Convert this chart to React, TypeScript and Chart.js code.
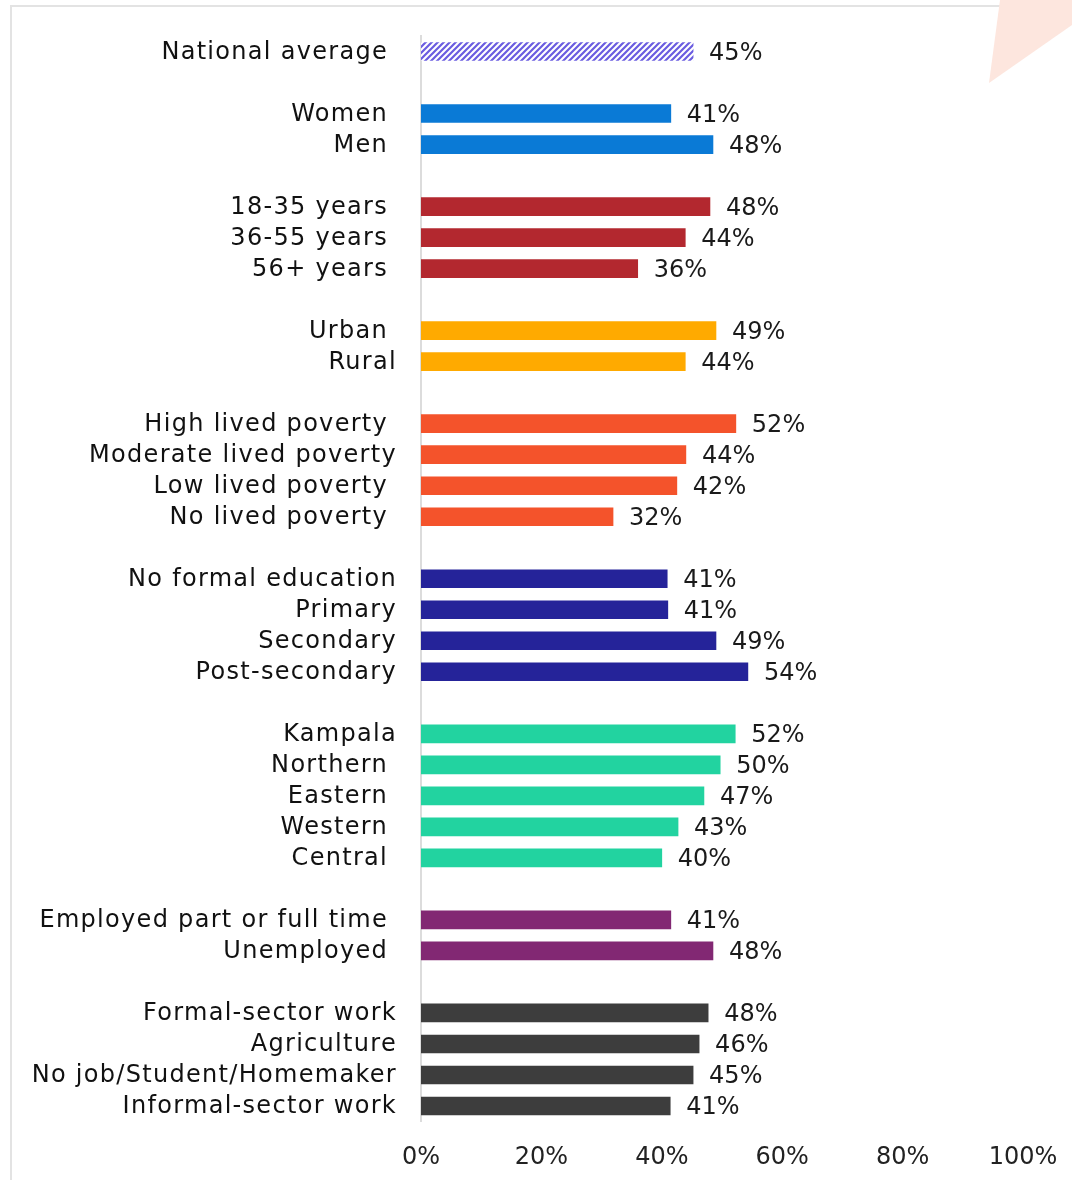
import React, { useEffect, useRef } from "react";
import { Chart, registerables } from "chart.js";

Chart.register(...registerables);

const categories = [
  "National average ", "",
  "Women ", "Men ", "",
  "18-35 years ", "36-55 years ", "56+ years ", "",
  "Urban ", "Rural", "",
  "High lived poverty ", "Moderate lived poverty", "Low lived poverty ", "No lived poverty ", "",
  "No formal education", "Primary", "Secondary", "Post-secondary", "",
  "Kampala", "Northern ", "Eastern ", "Western ", "Central ", "",
  "Employed part or full time ", "Unemployed ", "",
  "Formal-sector work", "Agriculture", "No job/Student/Homemaker", "Informal-sector work",
];

const values: (number | null)[] = [
  45.2, null,
  41.5, 48.5, null,
  48.0, 43.9, 36.0, null,
  49.0, 43.9, null,
  52.3, 44.0, 42.5, 31.9, null,
  40.9, 41.0, 49.0, 54.3, null,
  52.2, 49.7, 47.0, 42.7, 40.0, null,
  41.5, 48.5, null,
  47.7, 46.2, 45.2, 41.4,
];

const valueLabels: string[] = [
  "45%", "",
  "41%", "48%", "",
  "48%", "44%", "36%", "",
  "49%", "44%", "",
  "52%", "44%", "42%", "32%", "",
  "41%", "41%", "49%", "54%", "",
  "52%", "50%", "47%", "43%", "40%", "",
  "41%", "48%", "",
  "48%", "46%", "45%", "41%",
];

// group of each row (index into groupColors); -1 = gap, 0 = hatched national average
const groups = [
  0, -1,
  1, 1, -1,
  2, 2, 2, -1,
  3, 3, -1,
  4, 4, 4, 4, -1,
  5, 5, 5, 5, -1,
  6, 6, 6, 6, 6, -1,
  7, 7, -1,
  8, 8, 8, 8,
];

const groupColors = [
  "#6A5CE0", "#0A7AD6", "#B3282F", "#FFAA00", "#F4532B",
  "#252399", "#22D3A0", "#822873", "#3D3D3D",
];

const xTicks = [0, 20, 40, 60, 80, 100];

const FONT = "DejaVu Sans";

function makeHatch(color: string): CanvasPattern | string {
  const c = document.createElement("canvas");
  const s = 6;
  c.width = s;
  c.height = s;
  const ctx = c.getContext("2d");
  if (!ctx) return color;
  ctx.fillStyle = "#ffffff";
  ctx.fillRect(0, 0, s, s);
  ctx.strokeStyle = color;
  ctx.lineWidth = 2.2;
  ctx.beginPath();
  ctx.moveTo(-1, s + 1);
  ctx.lineTo(s + 1, -1);
  ctx.moveTo(-1, 1);
  ctx.lineTo(1, -1);
  ctx.moveTo(s - 1, s + 1);
  ctx.lineTo(s + 1, s - 1);
  ctx.stroke();
  const p = ctx.createPattern(c, "repeat");
  return p || color;
}

const framePlugin = {
  id: "frame",
  beforeDraw(chart: any) {
    const ctx = chart.ctx as CanvasRenderingContext2D;
    ctx.save();
    ctx.fillStyle = "#ffffff";
    ctx.fillRect(0, 0, chart.width, chart.height);
    ctx.strokeStyle = "#e3e3e3";
    ctx.lineWidth = 2;
    ctx.beginPath();
    ctx.moveTo(11, chart.height);
    ctx.lineTo(11, 6);
    ctx.lineTo(chart.width, 6);
    ctx.stroke();
    ctx.fillStyle = "#FDE6DE";
    ctx.beginPath();
    ctx.moveTo(1000, 0);
    ctx.lineTo(chart.width, 0);
    ctx.lineTo(chart.width, 25);
    ctx.lineTo(989, 83);
    ctx.closePath();
    ctx.fill();
    ctx.restore();
  },
};

const categoryLabelPlugin = {
  id: "categoryLabels",
  afterDraw(chart: any) {
    const ctx = chart.ctx as CanvasRenderingContext2D;
    const y = chart.scales.y;
    ctx.save();
    ctx.font = `24px "${FONT}"`;
    (ctx as any).letterSpacing = "1.3px";
    ctx.fillStyle = "#111111";
    ctx.textAlign = "right";
    ctx.textBaseline = "middle";
    categories.forEach((label, i) => {
      if (!label) return;
      ctx.fillText(label, y.right - 24, y.getPixelForValue(i) + 1);
    });
    ctx.restore();
  },
};

const valueLabelPlugin = {
  id: "valueLabels",
  afterDatasetsDraw(chart: any) {
    const ctx = chart.ctx as CanvasRenderingContext2D;
    const meta = chart.getDatasetMeta(0);
    ctx.save();
    ctx.font = `24px "${FONT}"`;
    ctx.fillStyle = "#1a1a1a";
    ctx.textAlign = "left";
    ctx.textBaseline = "middle";
    meta.data.forEach((bar: any, i: number) => {
      if (values[i] == null) return;
      ctx.fillText(valueLabels[i], bar.x + 16, bar.y + 2);
    });
    ctx.restore();
  },
};

export default function App() {
  const ref = useRef<HTMLCanvasElement>(null);

  useEffect(() => {
    if (!ref.current) return;
    const colors = groups.map((g) =>
      g < 0 ? "transparent" : g === 0 ? makeHatch(groupColors[0]) : groupColors[g]
    );
    const chart = new Chart(ref.current, {
      type: "bar",
      data: {
        labels: categories,
        datasets: [
          {
            data: values as any,
            backgroundColor: colors as any,
            borderWidth: 0,
            barThickness: 18,
          },
        ],
      },
      options: {
        indexAxis: "y",
        animation: false,
        responsive: false,
        devicePixelRatio: 1,
        layout: { padding: { top: 36, right: 49, left: 0, bottom: 0 } },
        plugins: {
          legend: { display: false },
          tooltip: { enabled: false },
        },
        scales: {
          x: {
            min: 0,
            max: 100,
            afterBuildTicks(scale: any) {
              scale.ticks = xTicks.map((v) => ({ value: v }));
            },
            afterFit(scale: any) {
              scale.height = 58.5;
              scale.paddingLeft = 0;
              scale.paddingRight = 0;
            },
            grid: { display: false, drawTicks: false },
            border: { display: false },
            ticks: {
              padding: 22,
              color: "#222222",
              font: { family: FONT, size: 24 },
              callback: (v: any) => `${v}%`,
            },
          },
          y: {
            afterFit(scale: any) {
              scale.width = 421;
              scale.paddingTop = 0;
              scale.paddingBottom = 0;
            },
            grid: { display: false, drawTicks: false },
            border: { display: true, color: "#dcdcdc", width: 2 },
            ticks: {
              display: false,
              autoSkip: false,
            },
          },
        },
      },
      plugins: [framePlugin, valueLabelPlugin, categoryLabelPlugin],
    });
    return () => chart.destroy();
  }, []);

  return (
    <div style={{ position: "absolute", left: 0, top: 0, width: 1072, height: 1180, background: "#fff" }}>
      <canvas ref={ref} width={1072} height={1180} style={{ display: "block", width: 1072, height: 1180 }} />
    </div>
  );
}
